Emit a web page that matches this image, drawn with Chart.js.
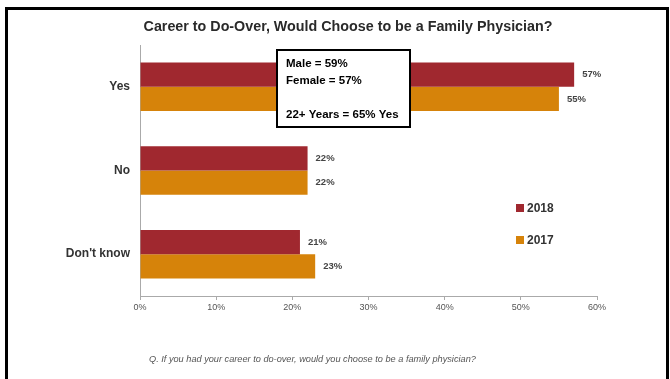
<!DOCTYPE html>
<html>
<head>
<meta charset="utf-8">
<script src="https://cdn.jsdelivr.net/npm/chart.js@4/dist/chart.umd.min.js"></script>
<style>
  html, body { margin: 0; padding: 0; background: #fff; }
  #wrap { position: relative; width: 670px; height: 379px; }
  #frame { position: absolute; left: 5px; top: 7px; width: 664px; height: 380px;
           border: 3px solid #000; border-bottom: none; box-sizing: border-box; pointer-events: none; }
</style>
</head>
<body>
<div id="wrap">
  <canvas id="chart" width="670" height="379"></canvas>
  <div id="frame"></div>
</div>
<script>
const categories = ['Yes', 'No', "Don't know"];
const values2018 = [57, 22, 21];
const values2017 = [55, 22, 23];
const xTicks = [0, 10, 20, 30, 40, 50, 60];
const noteLines = ['Male = 59%', 'Female = 57%', '', '22+ Years = 65% Yes'];

const red = '#a0282f';
const orange = '#d6830a';
const font = '"Liberation Sans", Arial, sans-serif';

// title, legend, text box, footnote and value labels
const extras = {
  id: 'extras',
  afterDatasetsDraw(chart) {
    const { ctx } = chart;
    ctx.save();

    ctx.fillStyle = '#2a2a2a';
    ctx.font = 'bold 14.3px ' + font;
    ctx.textAlign = 'center';
    ctx.textBaseline = 'middle';
    ctx.fillText('Career to Do-Over, Would Choose to be a Family Physician?', 348, 27);

    // value labels
    ctx.font = 'bold 9.5px ' + font;
    ctx.fillStyle = '#444';
    ctx.textAlign = 'left';
    chart.data.datasets.forEach((ds, i) => {
      chart.getDatasetMeta(i).data.forEach((bar, j) => {
        ctx.fillText(ds.data[j] + '%', bar.x + 8, bar.y);
      });
    });

    // legend
    chart.data.datasets.forEach((ds, i) => {
      const y = 208 + i * 32;
      ctx.fillStyle = ds.backgroundColor;
      ctx.fillRect(516, y - 4, 8, 8);
      ctx.fillStyle = '#333';
      ctx.font = 'bold 12px ' + font;
      ctx.fillText(ds.label, 527, y + 1);
    });

    // note box
    ctx.fillStyle = '#fff';
    ctx.fillRect(277, 50, 133, 77);
    ctx.strokeStyle = '#000';
    ctx.lineWidth = 2;
    ctx.strokeRect(277, 50, 133, 77);
    ctx.fillStyle = '#000';
    ctx.font = 'bold 11.5px ' + font;
    noteLines.forEach((t, i) => {
      ctx.fillText(t, 286, 64 + i * 17);
    });

    // footnote
    ctx.fillStyle = '#555';
    ctx.font = 'italic 9.2px ' + font;
    ctx.fillText('Q. If you had your career to do-over, would you choose to be a family physician?', 149, 359);

    ctx.restore();
  },
};

new Chart(document.getElementById('chart'), {
  type: 'bar',
  data: {
    labels: categories,
    datasets: [
      { label: '2018', data: values2018, backgroundColor: red },
      { label: '2017', data: values2017, backgroundColor: orange },
    ],
  },
  options: {
    responsive: false,
    animation: false,
    indexAxis: 'y',
    layout: { padding: { left: 0, right: 73, top: 45, bottom: 53 } },
    datasets: { bar: { categoryPercentage: 0.58, barPercentage: 1 } },
    scales: {
      x: {
        min: 0,
        max: 60,
        afterFit: (s) => { s.height = 30; },
        afterBuildTicks: (s) => { s.ticks = xTicks.map((v) => ({ value: v })); },
        grid: { drawOnChartArea: false, drawTicks: true, tickLength: 4, color: '#aaa' },
        border: { color: '#aaa' },
        ticks: {
          padding: 2,
          color: '#555',
          font: { family: font, size: 9 },
          callback: (v) => v + '%',
        },
      },
      y: {
        afterFit: (s) => { s.width = 140; },
        grid: { display: false },
        border: { color: '#aaa' },
        ticks: {
          padding: 2,
          color: '#333',
          font: { family: font, size: 12, weight: 'bold' },
        },
      },
    },
    plugins: {
      legend: { display: false },
      tooltip: { enabled: false },
    },
  },
  plugins: [extras],
});
</script>
</body>
</html>
